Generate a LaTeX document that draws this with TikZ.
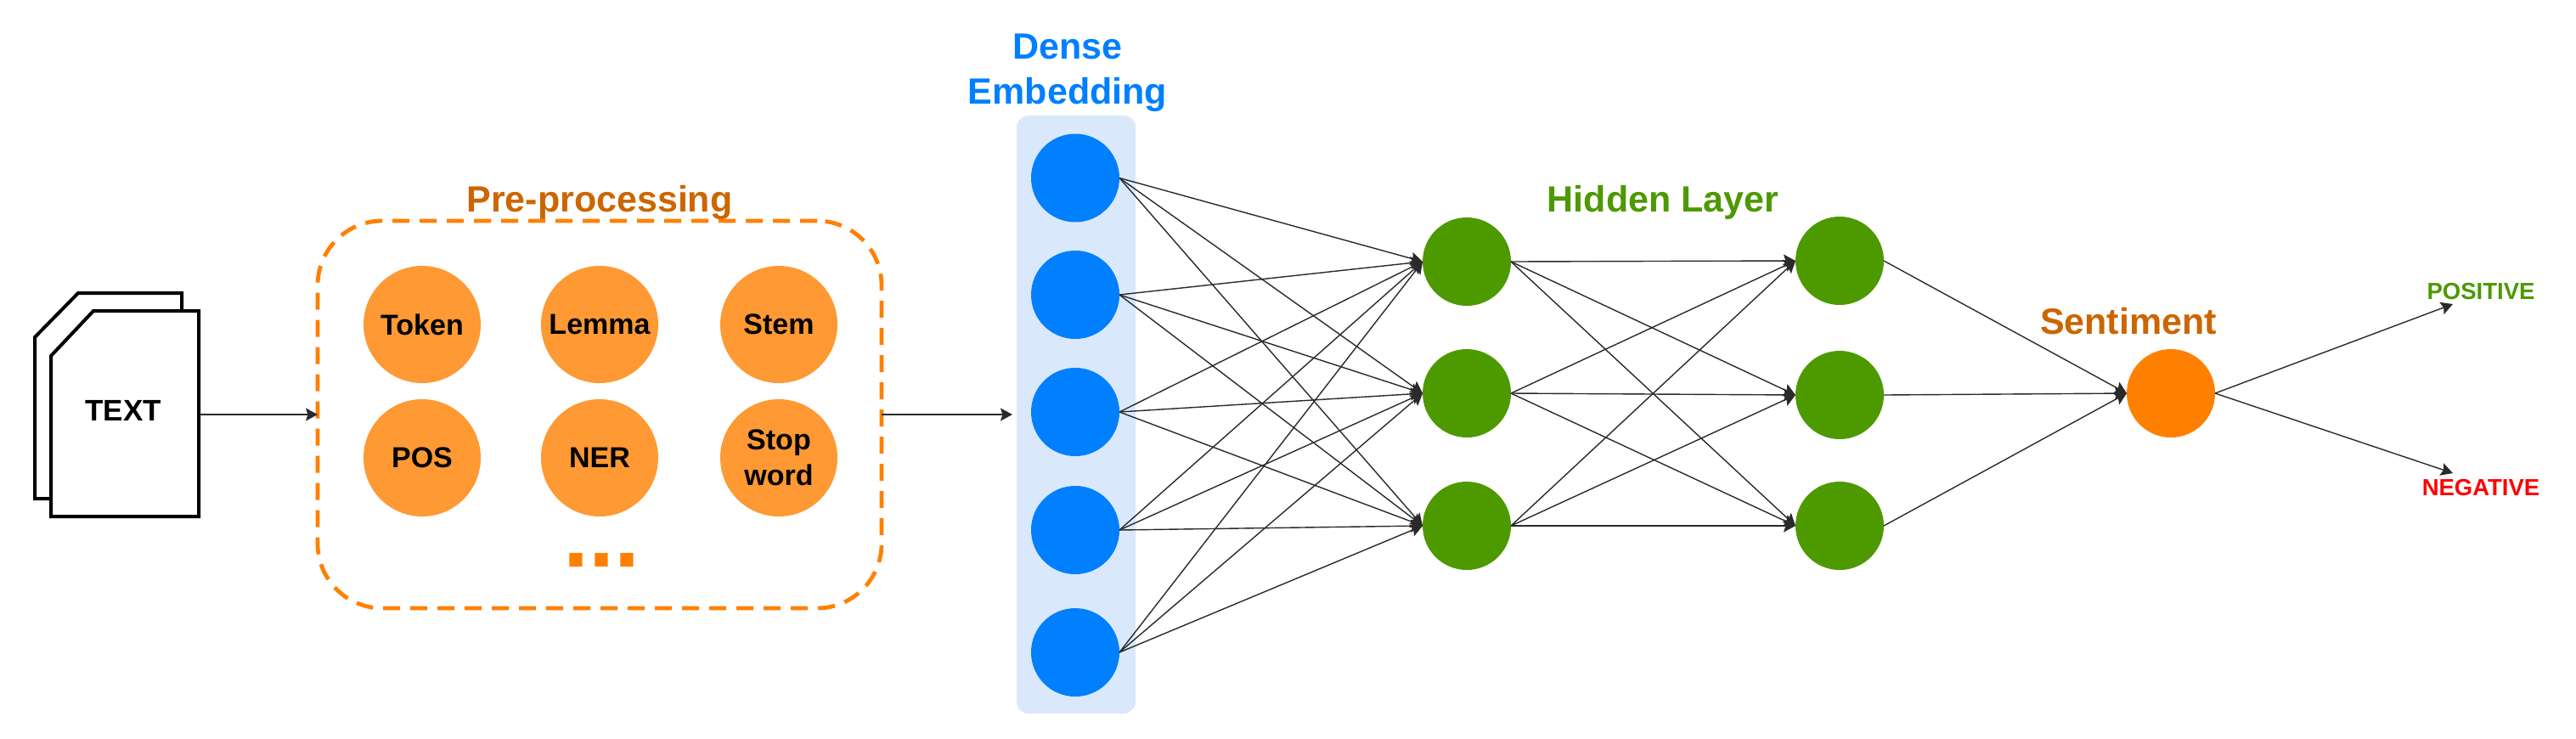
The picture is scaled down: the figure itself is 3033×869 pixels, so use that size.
\documentclass[tikz,border=0pt]{standalone}
\usepackage{fontspec}
\setmainfont{Liberation Sans}
\usetikzlibrary{arrows.meta}
\definecolor{cblue}{HTML}{007FFF}
\definecolor{cgreen}{HTML}{4D9900}
\definecolor{corange}{HTML}{FF8000}
\definecolor{clight}{HTML}{FF9933}
\definecolor{cbrown}{HTML}{CC6600}
\definecolor{cpale}{HTML}{DAE8FC}
\definecolor{cline}{HTML}{2A2A2A}
\tikzset{
  x=0.5pt,y=-0.5pt,
  every node/.style={inner sep=0pt,outer sep=0pt,font=\bfseries},
  ball/.style={circle,minimum size=52pt,draw=none},
  prenode/.style={circle,minimum size=69pt,fill=clight,draw=none,align=center,font=\fontsize{17}{21}\selectfont\bfseries},
  title/.style={align=center,font=\fontsize{21.5}{26.5}\selectfont\bfseries},
  small/.style={font=\fontsize{13.75}{16}\selectfont\bfseries},
  conn/.style={draw=cline,line width=0.7pt,-{Stealth[length=7pt,width=7.5pt,inset=1.2pt]}},
  doc/.style={draw=black,fill=white,line width=2pt,miter limit=10}
}
\begin{document}
\begin{tikzpicture}
\useasboundingbox (0,0) rectangle (3033,869);
% document stack
\draw[doc] (41,397) -- (92,345) -- (214,345) -- (214,587) -- (41,587) -- cycle;
\draw[doc] (60,419) -- (110,366) -- (234,366) -- (234,608) -- (60,608) -- cycle;
\node[rectangle,minimum width=88pt,minimum height=122pt] (docbody) at (147,488) {};
\node[font=\fontsize{17.5}{21}\selectfont\bfseries] (doclabel) at (145,483) {TEXT};
% preprocessing
\node[rectangle,rounded corners=38pt,draw=corange,line width=2.4pt,dash pattern=on 10pt off 6pt,minimum width=332pt,minimum height=228pt] (pre) at (706,488) {};
\node[title,text=cbrown] (pretitle) at (706,238) {Pre-processing};
\node[prenode] (token) at (497,382) {Token};
\node[prenode] (lemma) at (706,382) {Lemma};
\node[prenode] (stem) at (917,382) {Stem};
\node[prenode] (pos) at (497,539) {POS};
\node[prenode] (ner) at (706,539) {NER};
\node[prenode] (stop) at (917,539) {Stop\\word};
\node[anchor=base,text=corange,font=\fontsize{54}{60}\selectfont\bfseries] (dots) at (708,667) {...};
% embedding
\node[rectangle,rounded corners=7pt,fill=cpale,minimum width=70pt,minimum height=352pt] (dense) at (1267,488) {};
\node[title,text=cblue] (densetitle) at (1257,86) {Dense\\Embedding};
\foreach \n/\y in {1/209.5,2/347,3/485,4/624,5/768}
  \node[ball,fill=cblue] (d\n) at (1266,\y) {};
% hidden
\node[title,text=cgreen] (hiddentitle) at (1958,238) {Hidden Layer};
\foreach \n/\y in {1/308,2/463,3/619}
  \node[ball,fill=cgreen] (h\n) at (1727,\y) {};
\foreach \n/\y in {1/307,2/465,3/619}
  \node[ball,fill=cgreen] (k\n) at (2166,\y) {};
% sentiment
\node[ball,fill=corange] (sent) at (2556,463) {};
\node[title,text=cbrown] (senttitle) at (2506,378) {Sentiment};
\node[small,text=cgreen] (positive) at (2921,343) {POSITIVE};
\node[small,text=red] (negative) at (2921,574) {NEGATIVE};
\coordinate (tipP) at (2888,358);
\coordinate (tipN) at (2888,557);
% connectors
\draw[conn] (docbody.east) -- (pre.west);
\draw[conn] (pre.east) -- ([xshift=-2.5pt]dense.west);
\foreach \a in {1,...,5}
  \foreach \b in {1,2,3}
    \draw[conn] (d\a.east) -- (h\b.west);
\foreach \a in {1,2,3}
  \foreach \b in {1,2,3}
    \draw[conn] (h\a.east) -- (k\b.west);
\foreach \a in {1,2,3}
  \draw[conn] (k\a.east) -- (sent.west);
\draw[conn] (sent.east) -- (tipP);
\draw[conn] (sent.east) -- (tipN);
\end{tikzpicture}
\end{document}
